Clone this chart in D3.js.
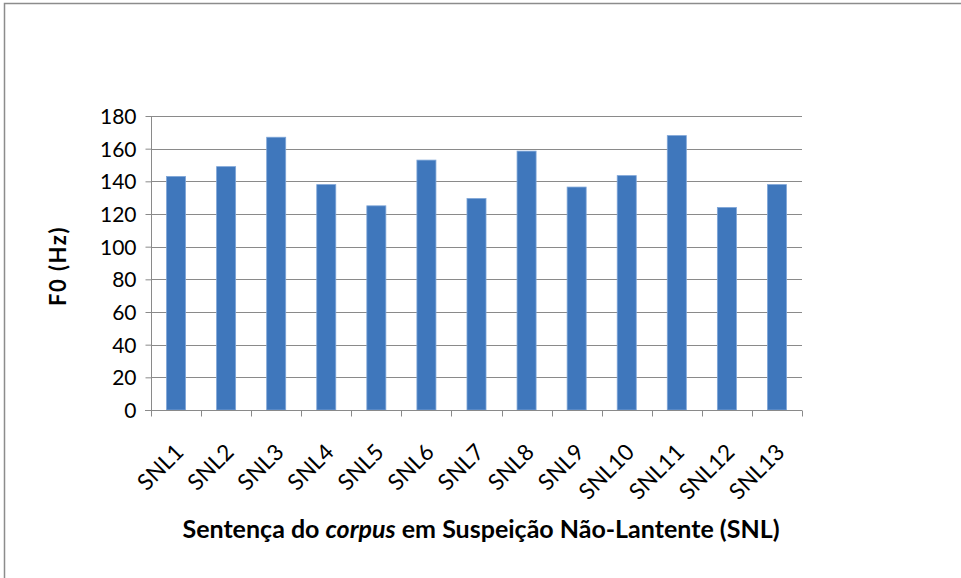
<!DOCTYPE html>
<html>
<head>
<meta charset="utf-8">
<script src="https://cdn.jsdelivr.net/npm/d3@7"></script>
<style>
  html, body { margin: 0; padding: 0; background: #fff; }
  svg { display: block; }
  text { font-family: Lato, "Open Sans", "DejaVu Sans", sans-serif; fill: #000; }
</style>
</head>
<body>
<script>
// Mean F0 per sentence
const categories = ["SNL1","SNL2","SNL3","SNL4","SNL5","SNL6","SNL7","SNL8","SNL9","SNL10","SNL11","SNL12","SNL13"];
const f0Values = [143, 149, 167, 138, 125, 153, 129.5, 158.5, 136.5, 143.5, 168, 124, 138];
const yTicks = [0, 20, 40, 60, 80, 100, 120, 140, 160, 180];

const W = 961, H = 578;
const plot = { left: 151, right: 802, top: 116, bottom: 410 };

const svg = d3.select("body").append("svg").attr("width", W).attr("height", H);

// chart frame
svg.append("path")
  .attr("d", `M4.5,${H} V3.5 H${W}`)
  .attr("fill", "none").attr("stroke", "#8c8c8c").attr("stroke-width", 1.5);

const x = d3.scaleBand().domain(categories).range([plot.left, plot.right]).paddingInner(0.62).paddingOuter(0.31);
const y = d3.scaleLinear().domain([0, 180]).range([plot.bottom, plot.top]);

// horizontal gridlines
svg.append("g").selectAll("line").data(yTicks.filter(d => d > 0)).join("line")
  .attr("x1", plot.left).attr("x2", plot.right)
  .attr("y1", d => Math.round(y(d)) + 0.5).attr("y2", d => Math.round(y(d)) + 0.5)
  .attr("stroke", "#8a8a8a").attr("stroke-width", 1);

// bars
svg.append("g").selectAll("rect").data(categories).join("rect")
  .attr("x", d => x(d))
  .attr("width", x.bandwidth())
  .attr("y", (d, i) => y(f0Values[i]))
  .attr("height", (d, i) => y(0) - y(f0Values[i]))
  .attr("fill", "#3f77bc")
  .attr("stroke", "#7fa6d8").attr("stroke-width", 0.8);

// y axis
const yAxis = svg.append("g")
  .attr("transform", `translate(${plot.left + 0.5},0)`)
  .call(d3.axisLeft(y).tickValues(yTicks).tickSize(6).tickPadding(9));
yAxis.selectAll("path,line").attr("stroke", "#8a8a8a");
yAxis.select(".domain").attr("d", `M0,${plot.top}V${plot.bottom}`);
yAxis.selectAll("text").style("font-size", "21px").attr("fill", "#1a1a1a").attr("dy", "0.36em");

// x axis: ticks on band edges
const xAxisG = svg.append("g").attr("transform", `translate(0,${plot.bottom + 0.5})`);
xAxisG.append("line").attr("x1", plot.left - 6).attr("x2", plot.right)
  .attr("stroke", "#8a8a8a");
const edges = categories.map(c => x(c) - x.step() * x.paddingInner() / 2).concat([plot.right]);
xAxisG.selectAll("line.tick").data(edges).join("line").attr("class", "tick")
  .attr("x1", d => Math.round(d) + 0.5).attr("x2", d => Math.round(d) + 0.5)
  .attr("y1", 0).attr("y2", 6).attr("stroke", "#8a8a8a");
xAxisG.selectAll("text").data(categories).join("text")
  .attr("transform", d => `translate(${x(d) + x.bandwidth() / 2 + 9},${43}) rotate(-45)`)
  .attr("text-anchor", "end")
  .attr("fill", "#1a1a1a")
  .style("font-size", "22.5px")
  .text(d => d);

// axis titles
svg.append("text")
  .attr("transform", `translate(66,${266}) rotate(-90)`)
  .attr("text-anchor", "middle")
  .style("font-size", "22px").style("font-weight", "bold")
  .style("letter-spacing", "1.5px")
  .text("F0 (Hz)");

const xt = svg.append("text")
  .attr("x", 481).attr("y", 538)
  .attr("text-anchor", "middle")
  .style("font-size", "25px").style("font-weight", "bold");
xt.append("tspan").text("Sentença do ");
xt.append("tspan").style("font-style", "italic").text("corpus");
xt.append("tspan").text(" em Suspeição Não-Lantente (SNL)");
</script>
</body>
</html>
